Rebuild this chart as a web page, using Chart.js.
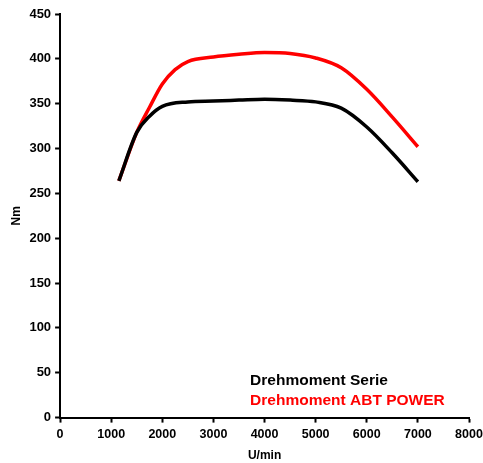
<!DOCTYPE html>
<html>
<head>
<meta charset="utf-8">
<script src="https://cdn.jsdelivr.net/npm/chart.js@4.4.0/dist/chart.umd.min.js"></script>
<style>
  html, body { margin: 0; padding: 0; background: #fff; }
  #wrap { width: 483px; height: 463px; }
</style>
</head>
<body>
<div id="wrap"><canvas id="drehmoment"></canvas></div>
<script>
// Daten
var rpmSerie = [1150, 1500, 1750, 2000, 2500, 3000, 3500, 4000, 4500, 5000, 5500, 6000, 6500, 7000];
var nmSerie  = [264, 318, 336, 347, 352, 353, 354, 355, 354, 352, 345, 324, 295, 263];
var rpmAbt = [1150, 1500, 1750, 2000, 2250, 2500, 3000, 3500, 4000, 4500, 5000, 5500, 6000, 6500, 7000];
var nmAbt  = [264, 318, 346, 372, 388, 397, 402, 405, 407, 406, 401, 390, 366, 335, 302];
var xTicks = [0, 1000, 2000, 3000, 4000, 5000, 6000, 7000, 8000];
var yTicks = [0, 50, 100, 150, 200, 250, 300, 350, 400, 450];

function toPoints(xs, ys) {
    return xs.map(function (x, i) { return { x: x, y: ys[i] }; });
}

var fontFamily = "'Liberation Sans', Arial, sans-serif";

// Legende als Text innerhalb der Zeichenfläche
var textLegend = {
    id: 'textLegend',
    afterDraw: function (chart) {
        var ctx = chart.ctx;
        var area = chart.chartArea;
        ctx.save();
        ctx.font = 'bold 15.5px ' + fontFamily;
        ctx.textBaseline = 'alphabetic';
        chart.data.datasets.forEach(function (ds, i) {
            ctx.fillStyle = ds.borderColor;
            ctx.fillText(ds.label, area.left + 190, area.bottom - 33 + i * 20);
        });
        ctx.restore();
    }
};

var ctx = document.getElementById('drehmoment').getContext('2d');
var myChart = new Chart(ctx, {
    type: 'scatter',
    data: {
        datasets: [{
            label: 'Drehmoment Serie',
            data: toPoints(rpmSerie, nmSerie),
            borderColor: '#000000',
            borderWidth: 3.5,
            showLine: true,
            pointRadius: 0,
            cubicInterpolationMode: 'monotone'
        }, {
            label: 'Drehmoment ABT POWER',
            data: toPoints(rpmAbt, nmAbt),
            borderColor: '#ff0000',
            borderWidth: 3.5,
            showLine: true,
            pointRadius: 0,
            cubicInterpolationMode: 'monotone'
        }]
    },
    options: {
        responsive: true,
        maintainAspectRatio: false,
        animation: false,
        layout: { padding: { left: 9, right: 14, top: 14, bottom: 0 } },
        plugins: {
            legend: { display: false },
            tooltip: { enabled: false }
        },
        scales: {
            x: {
                type: 'linear',
                min: 0,
                max: 8000,
                afterBuildTicks: function (axis) {
                    axis.ticks = xTicks.map(function (v) { return { value: v }; });
                },
                afterFit: function (axis) { axis.paddingRight = 0; },
                grid: { drawOnChartArea: false, tickLength: 5, tickColor: '#000', tickWidth: 2 },
                border: { color: '#000', width: 2 },
                ticks: {
                    color: '#000', font: { family: fontFamily, size: 12.5, weight: 'bold' }, maxRotation: 0, padding: 4,
                    callback: function (v) { return String(v); }
                },
                title: { display: true, text: 'U/min', color: '#000', font: { family: fontFamily, size: 12, weight: 'bold' }, padding: { top: 3, bottom: 0 } }
            },
            y: {
                min: 0,
                max: 450,
                afterBuildTicks: function (axis) {
                    axis.ticks = yTicks.map(function (v) { return { value: v }; });
                },
                afterFit: function (axis) { axis.paddingTop = 0; },
                grid: { drawOnChartArea: false, tickLength: 5, tickColor: '#000', tickWidth: 2 },
                border: { color: '#000', width: 2 },
                ticks: {
                    color: '#000', font: { family: fontFamily, size: 13, weight: 'bold' }, padding: 4,
                    callback: function (v) { return String(v); }
                },
                title: { display: true, text: 'Nm', color: '#000', font: { family: fontFamily, size: 12, weight: 'bold' }, padding: { top: 0, bottom: 2 } }
            }
        }
    },
    plugins: [textLegend]
});
</script>
</body>
</html>
